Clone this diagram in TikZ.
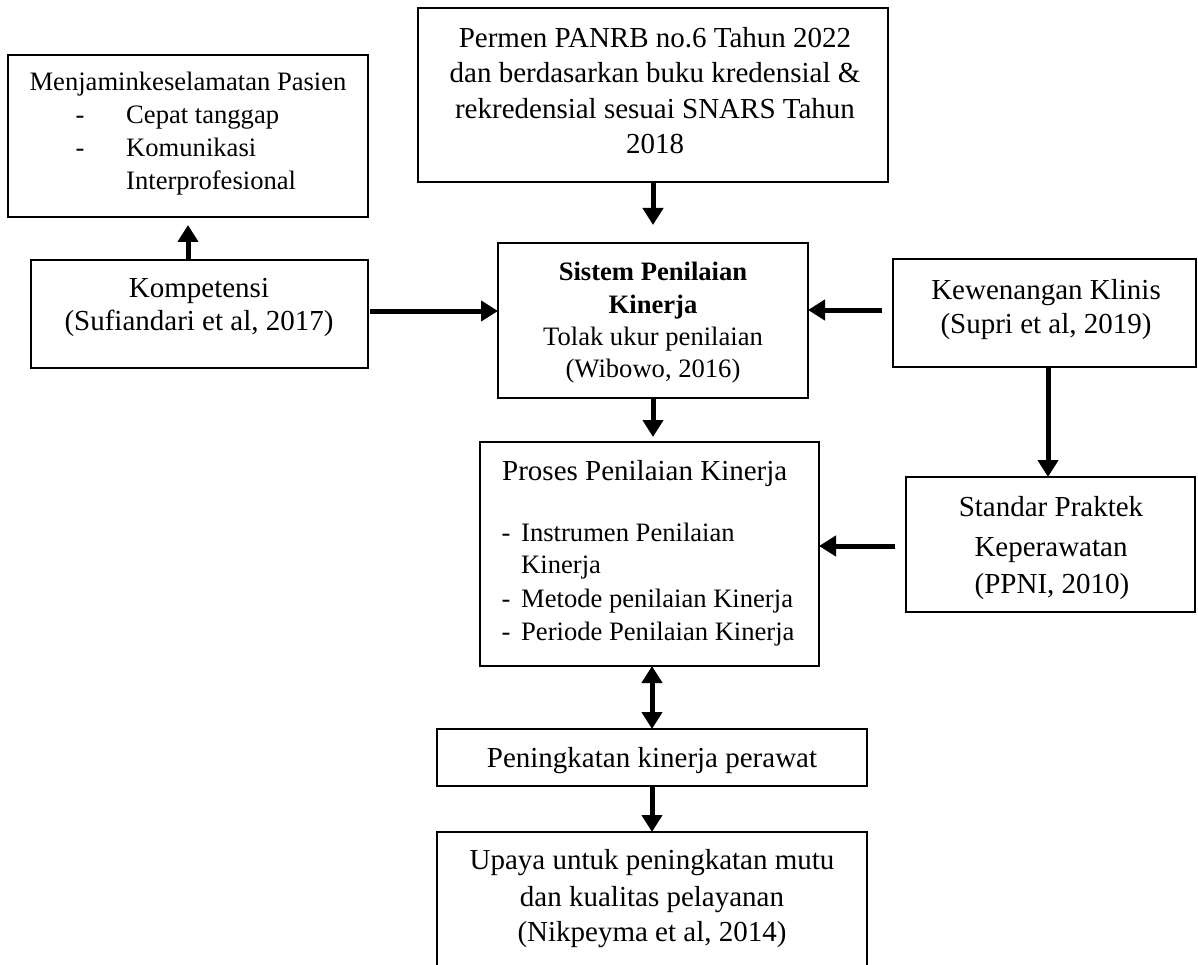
\documentclass[tikz,border=0pt]{standalone}
\usepackage{fontspec}
\setmainfont{Liberation Serif}
\usetikzlibrary{arrows.meta}
\newcommand\fbig{\fontsize{29}{33}\selectfont}
\newcommand\fsmall{\fontsize{26.6}{32}\selectfont}
\begin{document}
\begin{tikzpicture}[x=1pt,y=-1pt,
 box/.style={draw, line width=2.2pt, inner sep=0pt, outer sep=0pt, rectangle},
 big/.style={inner sep=0pt, font=\fbig, anchor=base},
 small/.style={inner sep=0pt, font=\fsmall, anchor=base},
 arr/.style={line width=5pt, -{Triangle[length=17pt,width=20pt]}},
 darr/.style={line width=5pt, {Triangle[length=17pt,width=20pt]}-{Triangle[length=17pt,width=20pt]}}]
\useasboundingbox (0,0) rectangle (1198,965);

% boxes
\node[box, minimum width=360pt, minimum height=162pt] (menj) at (188,136) {};
\node[box, minimum width=337pt, minimum height=108pt] (komp) at (199.5,314) {};
\node[box, minimum width=470pt, minimum height=174pt] (perm) at (653,95) {};
\node[box, minimum width=310pt, minimum height=155pt] (sis) at (653,320.5) {};
\node[box, minimum width=303pt, minimum height=108pt] (kew) at (1044.5,313) {};
\node[box, minimum width=289pt, minimum height=135pt] (std) at (1050.5,544.5) {};
\node[box, minimum width=339pt, minimum height=224pt] (pros) at (649.5,554) {};
\node[box, minimum width=430pt, minimum height=57pt] (pen) at (652,757.5) {};
\node[box, minimum width=430pt, minimum height=153pt] (upa) at (652,908.5) {};

% texts: Menjamin
\node[small] (m1) at (188,91) {Menjaminkeselamatan Pasien};
\node[small] (m2d) at (80,124) {-};
\node[small, anchor=base west] (m2) at (126,124) {Cepat tanggap};
\node[small] (m3d) at (80,157) {-};
\node[small, anchor=base west] (m3) at (126,157) {Komunikasi};
\node[small, anchor=base west] (m4) at (126,190) {Interprofesional};

% Kompetensi
\node[big] (k1) at (199,298) {Kompetensi};
\node[big] (k2) at (199,330) {(Sufiandari et al, 2017)};

% Permen
\node[big] (p1) at (655,48) {Permen PANRB no.6 Tahun 2022};
\node[big] (p2) at (655,83) {dan berdasarkan buku kredensial \&};
\node[big] (p3) at (655,119) {rekredensial sesuai SNARS Tahun};
\node[big] (p4) at (655,154) {2018};

% Sistem
\node[small, font=\fsmall\bfseries] (s1) at (653,280) {Sistem Penilaian};
\node[small, font=\fsmall\bfseries] (s2) at (653,313) {Kinerja};
\node[small] (s3) at (653,345) {Tolak ukur penilaian};
\node[small] (s4) at (653,377) {(Wibowo, 2016)};

% Kewenangan
\node[big] (w1) at (1046,299) {Kewenangan Klinis};
\node[big] (w2) at (1046,333) {(Supri et al, 2019)};

% Standar
\node[big] (d1) at (1051,516) {Standar Praktek};
\node[big] (d2) at (1051,556) {Keperawatan};
\node[big] (d3) at (1052,593) {(PPNI, 2010)};

% Proses
\node[big, anchor=base west] (r0) at (502,480) {Proses Penilaian Kinerja};
\node[small] (r1d) at (506,541) {-};
\node[small, anchor=base west] (r1) at (521,541) {Instrumen Penilaian};
\node[small, anchor=base west] (r1b) at (521,573) {Kinerja};
\node[small] (r2d) at (506,607) {-};
\node[small, anchor=base west] (r2) at (521,607) {Metode penilaian Kinerja};
\node[small] (r3d) at (506,640) {-};
\node[small, anchor=base west] (r3) at (521,640) {Periode Penilaian Kinerja};

% Peningkatan
\node[big] (n1) at (652,767) {Peningkatan kinerja perawat};

% Upaya
\node[big] (u1) at (652,869) {Upaya untuk peningkatan mutu};
\node[big] (u2) at (652,906) {dan kualitas pelayanan};
\node[big] (u3) at (652,941) {(Nikpeyma et al, 2014)};

% connectors
\draw[arr, shorten >=8pt] (komp.north -| menj.south) -- (menj.south);
\draw[arr, shorten >=18pt] (perm.south) -- (sis.north);
\draw[arr, shorten <=2pt] ([yshift=3pt]komp.east) -- ([yshift=3pt]komp.east -| sis.west);
\draw[arr, shorten <=11pt] ([yshift=3pt]kew.west) -- ([yshift=3pt]kew.west -| sis.east);
\draw[arr] ([xshift=3.5pt]kew.south) -- ([xshift=3.5pt]kew.south |- std.north);
\draw[arr, shorten <=11pt] ([yshift=-1.5pt]std.west) -- ([yshift=-1.5pt]std.west -| pros.east);
\draw[arr, shorten >=5pt] (sis.south) -- (sis.south |- pros.north);
\draw[darr] (pros.south -| pen.north) -- (pen.north);
\draw[arr] (pen.south) -- (upa.north);
\end{tikzpicture}
\end{document}
